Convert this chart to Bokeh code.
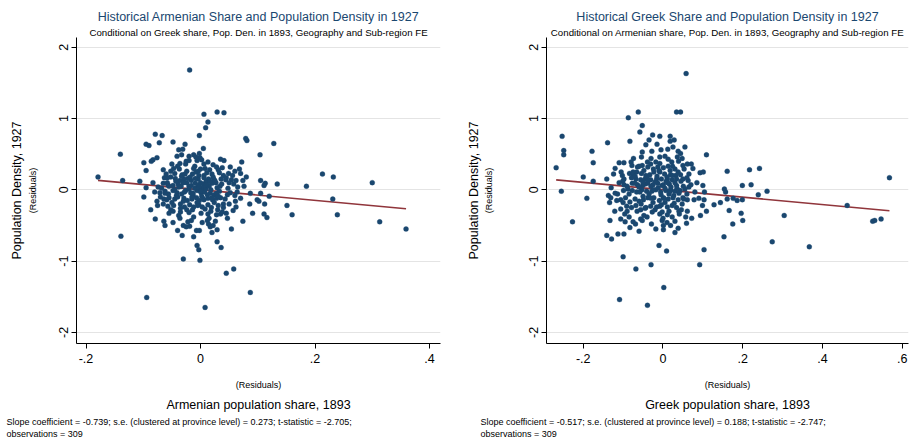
from bokeh.plotting import figure
from bokeh.models import FixedTicker, Title
from bokeh.layouts import row
from bokeh.embed import file_html
from bokeh.resources import INLINE

FONT = "Liberation Sans"
NAVY = "#1a476f"
MAROON = "#90353b"
GRID = "#e4e4e4"

# Residualised Armenian share (x) vs residualised 1927 population density (y)
arm_x = [
    0.006, 0.029, 0.041, 0.013, 0.009, -0.002, -0.079, -0.067, -0.095, -0.090,
    -0.072, -0.048, -0.027, 0.079, 0.081, 0.005, -0.038, -0.031, -0.033, -0.041,
    -0.020, -0.012, -0.001, -0.076, -0.083, -0.086, -0.099, -0.050, -0.036, -0.026,
    -0.020, -0.006, 0.002, 0.013, 0.041, 0.072, -0.095, -0.065, -0.052, -0.045,
    -0.037, -0.032, -0.024, -0.014, -0.008, 0.000, 0.008, 0.016, 0.031, 0.038,
    0.049, 0.056, 0.068, 0.070, 0.104, -0.052, -0.063, -0.058, -0.044, -0.029,
    -0.022, -0.016, -0.004, 0.006, 0.014, 0.023, 0.036, 0.044, 0.054, 0.062,
    0.074, 0.105, 0.113, 0.111, -0.106, -0.095, -0.074, -0.065, -0.057, -0.048,
    -0.039, -0.034, -0.020, -0.009, -0.004, 0.005, 0.013, 0.020, 0.029, 0.034,
    -0.080, -0.071, -0.062, -0.056, -0.048, -0.041, -0.033, -0.026, -0.017, -0.013,
    -0.006, 0.001, 0.007, 0.017, 0.024, 0.047, 0.064, 0.087, 0.105, 0.120,
    -0.099, -0.076, -0.064, -0.059, -0.055, -0.045, -0.040, -0.029, -0.023, -0.015,
    -0.007, -0.002, 0.006, 0.013, 0.021, 0.028, 0.035, 0.099, 0.102, -0.087,
    -0.065, -0.057, -0.047, -0.035, -0.028, -0.019, -0.012, -0.003, 0.003, 0.013,
    0.019, 0.031, 0.040, 0.061, 0.062, 0.112, -0.048, -0.035, -0.024, -0.014,
    0.001, 0.013, 0.028, 0.035, 0.038, 0.057, 0.091, 0.111, -0.079, -0.055,
    -0.038, -0.016, 0.012, 0.026, 0.074, 0.116, -0.064, -0.062, -0.025, -0.019,
    -0.007, -0.002, 0.017, 0.022, 0.014, -0.040, -0.032, -0.012, 0.029, 0.054,
    -0.006, -0.003, 0.029, 0.036, -0.030, -0.001,
    -0.019, -0.179, -0.140, -0.136, -0.139, -0.094, 0.008, 0.045, 0.058, 0.087,
    0.128, 0.213, 0.232, 0.300, 0.185, 0.134, 0.151, 0.160, 0.231, 0.239,
    0.313, 0.359,
]
arm_y = [
    1.06, 1.09, 1.08, 0.95, 0.87, 0.76, 0.78, 0.76, 0.64, 0.62,
    0.66, 0.67, 0.64, 0.72, 0.69, 0.58, 0.56, 0.57, 0.49, 0.47,
    0.47, 0.49, 0.45, 0.45, 0.42, 0.40, 0.38, 0.36, 0.37, 0.36,
    0.41, 0.41, 0.42, 0.39, 0.41, 0.39, 0.27, 0.28, 0.26, 0.23,
    0.29, 0.21, 0.26, 0.22, 0.25, 0.29, 0.30, 0.28, 0.28, 0.31,
    0.23, 0.20, 0.29, 0.23, 0.49, 0.18, 0.17, 0.17, 0.16, 0.15,
    0.16, 0.13, 0.15, 0.20, 0.15, 0.15, 0.15, 0.14, 0.14, 0.13,
    0.13, 0.13, 0.09, 0.06, 0.12, 0.03, 0.04, 0.09, 0.07, 0.06,
    0.08, 0.05, 0.05, 0.09, 0.06, 0.08, 0.06, 0.09, 0.03, 0.05,
    -0.03, -0.04, -0.02, -0.06, -0.01, -0.04, -0.06, -0.01, -0.04, -0.08,
    -0.01, -0.04, -0.03, -0.05, -0.07, -0.07, -0.03, -0.05, -0.05, -0.09,
    -0.10, -0.16, -0.13, -0.14, -0.11, -0.13, -0.10, -0.12, -0.15, -0.13,
    -0.11, -0.15, -0.14, -0.12, -0.14, -0.12, -0.11, -0.14, -0.16, -0.28,
    -0.20, -0.23, -0.22, -0.20, -0.24, -0.21, -0.24, -0.21, -0.24, -0.21,
    -0.25, -0.22, -0.20, -0.16, -0.24, -0.20, -0.30, -0.31, -0.28, -0.28,
    -0.33, -0.34, -0.35, -0.34, -0.31, -0.29, -0.33, -0.34, -0.41, -0.33,
    -0.36, -0.43, -0.43, -0.44, -0.44, -0.39, -0.44, -0.50, -0.52, -0.51,
    -0.57, -0.57, -0.52, -0.50, -0.48, -0.57, -0.64, -0.66, -0.56, -0.55,
    -0.78, -0.84, -0.73, -0.81, -0.97, -0.99,
    1.68, 0.18, 0.50, 0.13, -0.65, -1.51, -1.65, -1.17, -1.11, -1.44,
    0.65, 0.22, 0.18, 0.10, 0.05, 0.08, -0.22, -0.35, -0.13, -0.35,
    -0.45, -0.55,
]
# overlapping observations inside the dense centre of the Armenian cloud
arm_core_x = [
    -0.010, 0.004, 0.018, -0.024, 0.010, 0.027, -0.036, -0.003, 0.020, 0.040,
    -0.045, -0.028, 0.033, 0.048, -0.018, 0.000, 0.012, -0.006, 0.024, -0.030,
    0.043, -0.050, 0.008, -0.020, 0.030, -0.040, -0.010, 0.022, 0.052, -0.060,
    0.058, 0.050, -0.068, -0.012, 0.006, 0.016, -0.042, 0.028, -0.004, 0.033,
    -0.070, 0.065, -0.025, 0.047, 0.003, -0.048, 0.060, -0.016, 0.009, -0.033,
    -0.002, 0.015, -0.020, 0.025, -0.009, 0.037, -0.030, 0.002, -0.015, 0.020,
    -0.027, 0.011, -0.043, 0.045, -0.055, 0.052, -0.005, 0.018, -0.035, 0.040,
    -0.012, 0.028, -0.047, 0.060, -0.062, 0.070, -0.022, 0.015, 0.035, -0.008,
    -0.058, 0.076, -0.036, 0.050, 0.000, -0.013, 0.022, -0.038, 0.031, 0.006,
    -0.052, 0.045, -0.002, 0.020, -0.030, 0.080, -0.083, 0.086, -0.075, 0.010, 0.004,
]
arm_core_y = [
    0.02, 0.03, 0.00, 0.10, 0.12, 0.10, 0.13, 0.20, 0.22, 0.20,
    0.00, -0.03, -0.02, 0.02, 0.18, 0.10, -0.07, -0.18, -0.18, -0.16,
    -0.13, -0.18, -0.27, -0.32, -0.28, 0.33, 0.33, 0.35, 0.32, 0.22,
    0.08, -0.20, 0.02, -0.38, 0.36, 0.12, -0.08, -0.05, 0.26, 0.24,
    -0.10, 0.04, 0.40, -0.40, -0.46, -0.46, -0.08, 0.06, 0.01, 0.19,
    0.04, 0.05, 0.01, 0.13, 0.16, 0.08, 0.10, -0.09, -0.10, -0.11,
    0.22, 0.24, 0.12, 0.17, 0.05, -0.04, -0.22, -0.30, -0.26, -0.25,
    0.30, 0.32, 0.30, 0.26, -0.05, -0.12, -0.45, -0.40, 0.43, 0.46,
    0.10, 0.05, -0.40, 0.10, -0.02, -0.05, 0.18, 0.04, -0.09, 0.17,
    -0.28, -0.33, 0.51, -0.60, -0.50, 0.18, 0.10, -0.20, -0.22, 0.07, -0.12,
]

# Residualised Greek share (x) vs residualised 1927 population density (y)
grk_x = [
    -0.087, -0.062, 0.034, 0.044, -0.052, -0.058, -0.026, -0.008, 0.018, 0.028,
    -0.139, -0.083, -0.043, 0.018, -0.178, -0.028, -0.005, 0.012, 0.038, 0.044,
    -0.175, -0.110, -0.098, -0.074, -0.080, -0.054, -0.039, -0.031, -0.018, -0.008,
    0.013, 0.036, 0.039, 0.061, 0.109, -0.078, -0.064, -0.052, -0.038, -0.024,
    -0.013, 0.001, 0.013, 0.024, 0.030, 0.053, 0.071, 0.093, 0.101, 0.161,
    -0.124, -0.102, -0.084, -0.075, -0.066, -0.054, -0.043, -0.033, -0.023, -0.008,
    0.004, 0.019, 0.032, 0.044, -0.200, -0.175, -0.141, -0.098, -0.079, -0.068,
    -0.056, -0.045, -0.031, -0.016, -0.004, 0.011, 0.023, 0.034, 0.050, 0.063,
    -0.101, -0.098, -0.077, -0.064, -0.051, -0.038, -0.025, -0.013, 0.001, 0.016,
    0.034, 0.051, 0.065, 0.104, 0.154, 0.157, -0.191, -0.137, -0.131, -0.114,
    -0.099, -0.088, -0.077, -0.066, -0.053, -0.041, -0.028, -0.018, -0.006, 0.007,
    0.019, 0.030, 0.043, 0.055, -0.134, -0.116, -0.106, -0.094, -0.083, -0.070,
    -0.060, -0.049, -0.038, -0.023, -0.009, 0.001, 0.013, 0.025, 0.038, 0.050,
    0.061, 0.078, 0.103, 0.128, 0.144, 0.161, -0.121, -0.106, -0.091, -0.079,
    -0.068, -0.056, -0.043, -0.031, -0.016, -0.004, 0.011, 0.023, 0.034, 0.046,
    0.061, 0.099, 0.109, 0.166, -0.227, -0.133, -0.106, -0.096, -0.056, -0.048,
    -0.027, -0.002, 0.011, 0.023, 0.041, 0.057, 0.094, -0.141, -0.129, -0.113,
    -0.098, -0.083, -0.069, -0.052, -0.029, -0.002, 0.001, 0.001, 0.019, 0.038,
    0.059, 0.153, -0.010, 0.009, 0.103, -0.100,
    0.058, -0.268, -0.253, -0.249, -0.249, -0.255, -0.068, -0.030, -0.109, -0.039,
    0.002, 0.092, 0.217, 0.242, 0.199, 0.221, 0.261, 0.239, 0.176, 0.186,
    0.199, 0.196, 0.200, 0.175, 0.304, 0.274, 0.367, 0.462, 0.526, 0.531,
    0.547, 0.568,
]
grk_y = [
    1.01, 1.09, 1.09, 1.09, 0.90, 0.81, 0.77, 0.75, 0.75, 0.70,
    0.66, 0.68, 0.63, 0.68, 0.54, 0.54, 0.56, 0.57, 0.54, 0.51,
    0.38, 0.38, 0.38, 0.44, 0.39, 0.46, 0.39, 0.36, 0.39, 0.46,
    0.43, 0.46, 0.40, 0.36, 0.49, 0.34, 0.32, 0.34, 0.32, 0.29,
    0.32, 0.31, 0.33, 0.33, 0.29, 0.29, 0.36, 0.24, 0.25, 0.26,
    0.22, 0.20, 0.23, 0.21, 0.25, 0.23, 0.20, 0.21, 0.25, 0.25,
    0.22, 0.21, 0.20, 0.21, 0.18, 0.12, 0.15, 0.15, 0.17, 0.15,
    0.14, 0.15, 0.14, 0.15, 0.15, 0.15, 0.14, 0.15, 0.15, 0.13,
    0.12, 0.07, 0.09, 0.07, 0.06, 0.09, 0.07, 0.09, 0.07, 0.08,
    0.06, 0.05, 0.04, -0.03, 0.01, -0.03, -0.12, -0.08, -0.11, -0.06,
    -0.01, 0.01, -0.01, -0.03, 0.00, -0.02, -0.02, 0.00, -0.03, -0.01,
    0.00, -0.02, -0.01, 0.01, -0.18, -0.15, -0.14, -0.11, -0.17, -0.13,
    -0.16, -0.14, -0.11, -0.11, -0.15, -0.11, -0.13, -0.11, -0.14, -0.11,
    -0.14, -0.14, -0.14, -0.21, -0.18, -0.13, -0.30, -0.27, -0.23, -0.25,
    -0.22, -0.28, -0.25, -0.23, -0.24, -0.21, -0.24, -0.22, -0.25, -0.28,
    -0.30, -0.22, -0.30, -0.29, -0.45, -0.43, -0.41, -0.34, -0.41, -0.36,
    -0.31, -0.31, -0.35, -0.38, -0.34, -0.38, -0.36, -0.64, -0.69, -0.62,
    -0.62, -0.53, -0.48, -0.43, -0.48, -0.43, -0.50, -0.56, -0.50, -0.54,
    -0.47, -0.66, -0.78, -0.86, -0.84, -0.94,
    1.63, 0.31, 0.75, 0.55, 0.49, -0.02, -1.11, -1.05, -1.54, -1.62,
    -1.37, -1.05, 0.28, 0.30, 0.06, 0.07, -0.02, -0.07, -0.12, -0.15,
    -0.14, -0.33, -0.43, -0.48, -0.36, -0.73, -0.80, -0.22, -0.44, -0.43,
    -0.41, 0.17,
]
# overlapping observations inside the dense centre of the Greek cloud
grk_core_x = [
    -0.012, 0.005, -0.030, 0.020, -0.045, 0.030, -0.060, 0.040, -0.020, 0.008,
    -0.035, -0.005, 0.015, -0.050, 0.027, -0.070, 0.045, -0.015, 0.010, -0.040,
    -0.025, 0.005, -0.055, 0.028, -0.085, 0.060, -0.010, 0.018, -0.048, 0.038,
    -0.090, 0.070, -0.020, 0.015, -0.065, 0.048, -0.008, 0.022, -0.060, 0.050,
    -0.100, 0.080, -0.030, 0.005, -0.075, 0.065, -0.040, 0.000, -0.085, 0.030,
    -0.110, 0.085, -0.052, 0.025, -0.095, 0.072, -0.018, -0.060, 0.048, -0.120,
    -0.002, -0.024, 0.012, -0.038, 0.035, -0.058, 0.002, -0.030, 0.024, -0.070,
    -0.045, 0.040, -0.008, 0.060, -0.105, 0.090, -0.130, 0.100, -0.015, 0.030,
    -0.075, 0.055, -0.035, -0.120, 0.075, -0.090, 0.010, -0.050, 0.018, -0.008, 0.052,
]
grk_core_y = [
    0.03, 0.02, 0.05, 0.04, 0.08, 0.10, 0.04, -0.05, 0.11, 0.12,
    -0.06, -0.07, -0.06, -0.09, -0.08, 0.09, 0.12, 0.19, 0.18, 0.17,
    -0.18, -0.18, -0.20, -0.19, -0.06, -0.06, 0.27, 0.27, 0.27, 0.25,
    0.05, 0.07, -0.28, -0.30, -0.30, -0.20, 0.37, 0.39, 0.33, 0.34,
    -0.18, -0.03, 0.44, 0.47, 0.25, 0.22, -0.38, -0.40, -0.38, -0.44,
    0.10, 0.10, 0.53, 0.60, -0.45, -0.40, -0.55, -0.58, 0.44, -0.05,
    0.06, 0.00, 0.10, 0.13, 0.02, -0.03, -0.12, -0.12, 0.20, 0.19,
    -0.26, -0.30, -0.34, 0.17, 0.25, -0.12, 0.03, 0.06, 0.64, -0.60,
    -0.45, 0.60, 0.70, 0.30, 0.30, -0.30, -0.46, 0.10, -0.02, -0.23, -0.13,
]

arm_slope, arm_se, arm_t, arm_n = -0.739, 0.273, -2.705, 309
grk_slope, grk_se, grk_t, grk_n = -0.517, 0.188, -2.747, 309

y_ticks = [-2, -1, 0, 1, 2]
arm_xticks = [-0.2, 0.0, 0.2, 0.4]
grk_xticks = [-0.2, 0.0, 0.2, 0.4, 0.6]


def stata_label(v):
    s = "%g" % round(v, 3)
    if s.startswith("0."):
        s = s[1:]
    elif s.startswith("-0."):
        s = "-" + s[2:]
    return s


def add_title(p, place, text, size, color="black", align="center",
              offset=0, standoff=0):
    p.add_layout(Title(text=text, align=align, offset=offset, standoff=standoff,
                       text_font=FONT, text_font_size=size, text_color=color,
                       text_font_style="normal"), place)


def panel(xs, ys, slope, se, tstat, n, xticks, x_range, width, border_left,
          border_right, title, subtitle, xtitle, title_offset, note_offset,
          yres_gap, ytitle_gap):
    p = figure(width=width, height=441, x_range=x_range, y_range=(-2.156, 2.136),
               output_backend="svg", toolbar_location=None, title=title,
               min_border_left=border_left, min_border_right=border_right,
               min_border_top=37, min_border_bottom=98)
    p.outline_line_color = None
    p.background_fill_color = "white"
    p.border_fill_color = "white"

    p.title.align = "center"
    p.title.offset = title_offset
    p.title.standoff = 1
    p.title.text_font = FONT
    p.title.text_font_size = "12.5px"
    p.title.text_font_style = "normal"
    p.title.text_color = NAVY
    add_title(p, "above", subtitle, "9.7px", offset=title_offset, standoff=0)

    p.xgrid.visible = False
    p.ygrid.ticker = FixedTicker(ticks=y_ticks)
    p.ygrid.grid_line_color = GRID
    p.ygrid.grid_line_width = 1.2

    for ax in (p.xaxis[0], p.yaxis[0]):
        ax.axis_line_color = "black"
        ax.axis_line_width = 1
        ax.major_tick_line_color = "black"
        ax.major_tick_in = 0
        ax.major_tick_out = 5
        ax.minor_tick_line_color = None
        ax.major_label_text_font = FONT
        ax.major_label_text_font_size = "12.5px"
        ax.major_label_text_color = "black"
        # the "(Residuals)" note sits right next to each axis
        ax.axis_label = "(Residuals)"
        ax.axis_label_text_font = FONT
        ax.axis_label_text_font_size = "9px"
        ax.axis_label_text_font_style = "normal"
        ax.axis_label_text_color = "black"

    p.xaxis.ticker = FixedTicker(ticks=xticks)
    p.xaxis.major_label_overrides = {t: stata_label(t) for t in xticks}
    p.xaxis.major_label_standoff = 5
    p.xaxis.axis_label_standoff = 14
    p.yaxis.ticker = FixedTicker(ticks=y_ticks)
    p.yaxis.major_label_overrides = {t: stata_label(t) for t in y_ticks}
    p.yaxis.major_label_orientation = "vertical"
    p.yaxis.major_label_standoff = 3
    p.yaxis.axis_label_standoff = yres_gap

    add_title(p, "left", "Population Density, 1927", "12.5px", standoff=ytitle_gap)

    add_title(p, "below", xtitle, "12.5px", offset=title_offset, standoff=6)
    add_title(p, "below",
              "Slope coefficient = %.3f; s.e. (clustered at province level) = %.3f; "
              "t-statistic = %.3f;" % (slope, se, tstat), "9px", align="left",
              offset=note_offset, standoff=0)
    add_title(p, "below", "observations = %d" % n, "9px", align="left",
              offset=note_offset, standoff=0)

    # fitted line through the residual cloud: y = slope * x
    x0, x1 = min(xs), max(xs)
    p.line([x0, x1], [slope * x0, slope * x1], line_color=MAROON, line_width=1.6)
    p.scatter(xs, ys, size=5, fill_color=NAVY, line_color=NAVY, line_width=0.3)
    return p


p1 = panel(arm_x + arm_core_x, arm_y + arm_core_y, arm_slope, arm_se, arm_t, arm_n,
           arm_xticks, (-0.2166, 0.4192), 455, 76, 15,
           "Historical Armenian Share and Population Density in 1927",
           "Conditional on Greek share, Pop. Den. in 1893, Geography and Sub-region FE",
           "Armenian population share, 1893", 0, -70, 19, 2)
p2 = panel(grk_x + grk_core_x, grk_y + grk_core_y, grk_slope, grk_se, grk_t, grk_n,
           grk_xticks, (-0.2922, 0.6158), 456, 91, 3,
           "Historical Greek Share and Population Density in 1927",
           "Conditional on Armenian share, Pop. Den. in 1893, Geography and Sub-region FE",
           "Greek population share, 1893", -4, -66, 33, 0)

layout = row(p1, p2)
open("out.html", "w").write(file_html(layout, INLINE))
